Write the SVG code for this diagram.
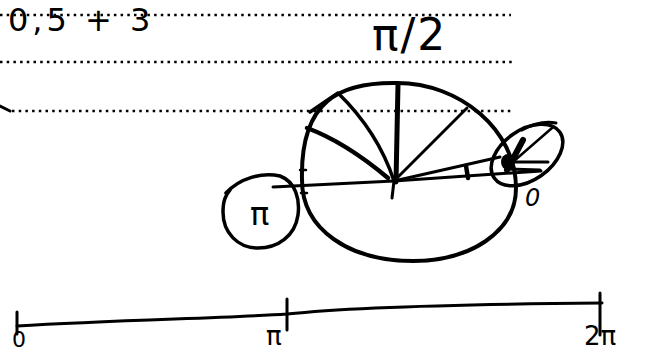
<svg xmlns="http://www.w3.org/2000/svg" width="650" height="353" viewBox="0 0 650 353">
<style>
.dot{fill:none;stroke:#000;stroke-width:2.5;stroke-dasharray:2.5 4.2}
.s{fill:none;stroke:#000;stroke-linecap:round;stroke-linejoin:round}
.t{font-family:"DejaVu Sans","Liberation Sans",sans-serif;fill:#000}
</style>
<rect width="650" height="353" fill="#fff"/>
<g id="guides">
<line class="dot" x1="0" y1="15" x2="511" y2="15"/>
<line class="dot" x1="0" y1="62" x2="512" y2="62"/>
<line class="dot" x1="12" y1="111" x2="512" y2="111"/>
<path class="s" stroke-width="3" d="M0 106 L10 111"/>
</g>
<g id="formula">
<text class="t" x="8" y="31" font-size="32" letter-spacing="4">0,5 + 3</text>
</g>
<g id="label-pi2">
<text class="t" x="372" y="50" font-size="44" letter-spacing="2">π/2</text>
</g>
<g id="unit-circle">
<path class="s" stroke-width="4" d="M397 83 C460 83 516 130 516 188 C516 232 470 261 413 261 C350 261 302 230 302 180 C300 100 340 82 397 83 Z"/>
<path class="s" stroke-width="5" d="M396 182 L398 84"/>
<path class="s" stroke-width="3" d="M394 181 L392 198"/>
<path class="s" stroke-width="3" d="M394 181 L467 108"/>
<path class="s" stroke-width="3.5" d="M394 181 Q378 132 338 93 L310 112"/>
<path class="s" stroke-width="4.5" d="M307 128 Q345 142 388 178"/>
<path class="s" stroke-width="3" d="M273 187 L394 181 L541 171"/>
<path class="s" stroke-width="3" d="M394 181 L500 157"/>
<path class="s" stroke-width="4.5" d="M466 166 L468 178"/>
<path class="s" stroke-width="2.5" d="M300 170 L306 170 M301 193 L307 193"/>
</g>
<g id="node-pi">
<path class="s" stroke-width="3.5" d="M226 193 C240 178 262 172 280 176 C296 182 300 200 298 215 C295 236 278 248 258 248 C238 248 223 233 223 212 C223 200 226 195 230 190"/>
<text class="t" x="250" y="225" font-size="32">π</text>
</g>
<g id="node-zero">
<ellipse class="s" stroke-width="3.5" cx="527" cy="155" rx="40" ry="25" transform="rotate(-35 527 155)"/>
<path class="s" stroke-width="3" d="M522 130 Q540 120 556 123"/>
<ellipse cx="508" cy="162" rx="7" ry="8" fill="#000"/>
<path class="s" stroke-width="6" d="M507 170 L523 140"/>
<path class="s" stroke-width="2.5" d="M514 161 L552 128"/>
<path class="s" stroke-width="3" d="M509 162 L548 162 M507 169 L540 170"/>
<text class="t" x="525" y="206" font-size="24" font-style="italic">0</text>
</g>
<g id="number-line">
<path class="s" stroke-width="3" d="M17 326 C120 320 230 318 287 314 C360 306 480 304 602 303"/>
<path class="s" stroke-width="3" d="M17 312 L17 334"/>
<path class="s" stroke-width="3" d="M287 299 L287 330"/>
<path class="s" stroke-width="3" d="M600 293 L600 335"/>
<text class="t" x="12" y="347" font-size="22">0</text>
<text class="t" x="266" y="345" font-size="26">π</text>
<text class="t" x="584" y="345" font-size="26">2π</text>
</g>
</svg>
